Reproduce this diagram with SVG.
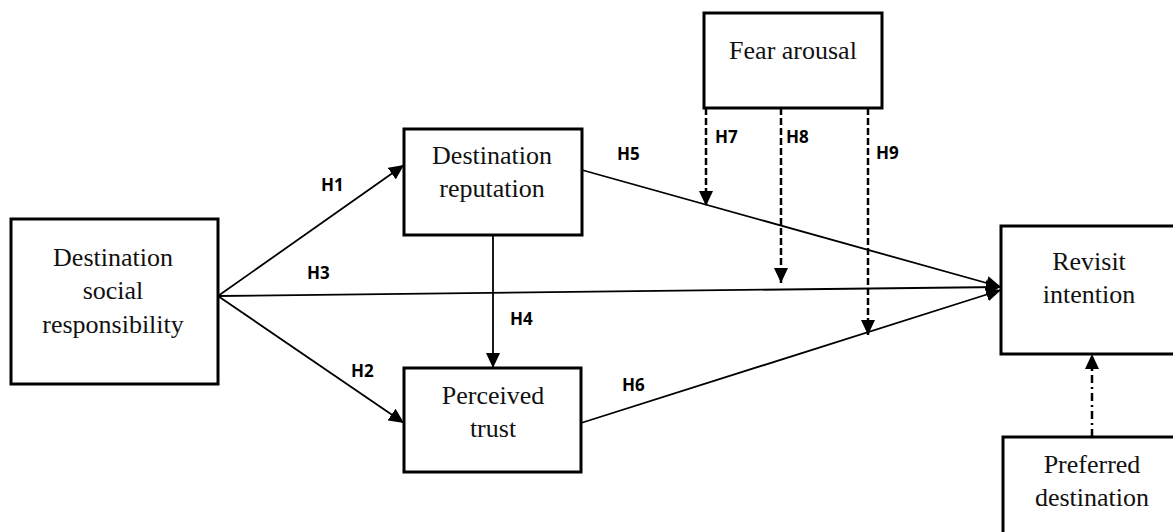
<svg xmlns="http://www.w3.org/2000/svg" width="1173" height="532" viewBox="0 0 1173 532">
<style>
.box{fill:#fff;stroke:#000;stroke-width:3}
.t{font-family:"Liberation Serif","Times New Roman",serif;font-size:26px;fill:#111;text-anchor:middle}
.h{font-family:"Open Sans","Liberation Sans",sans-serif;font-weight:bold;font-size:17px;fill:#000}
.c{stroke:#000;stroke-width:1.8;fill:none}
.d{stroke:#000;stroke-width:2.5;fill:none;stroke-dasharray:7 3}
.dd{stroke:#000;stroke-width:2.5;fill:none;stroke-dasharray:8 4 2 4}
</style>
<defs>
<marker id="ar" markerUnits="userSpaceOnUse" markerWidth="16" markerHeight="14" refX="15" refY="7" orient="auto">
<path d="M0,0 L15,7 L0,14 z" fill="#000"/>
</marker>
</defs>
<rect width="1173" height="532" fill="#fff"/>
<g id="connectors">
<line class="c" x1="218" y1="296" x2="404" y2="165" marker-end="url(#ar)"/>
<line class="c" x1="218" y1="296" x2="404" y2="423" marker-end="url(#ar)"/>
<line class="c" x1="218" y1="296" x2="1001" y2="287" marker-end="url(#ar)"/>
<line class="c" x1="493" y1="235" x2="493" y2="368" marker-end="url(#ar)"/>
<line class="c" x1="582" y1="170" x2="1001" y2="287" marker-end="url(#ar)"/>
<line class="c" x1="581" y1="423" x2="1001" y2="290" marker-end="url(#ar)"/>
<line class="d" x1="706" y1="108" x2="706" y2="206" marker-end="url(#ar)"/>
<line class="d" x1="781" y1="108" x2="781" y2="283" marker-end="url(#ar)"/>
<line class="d" x1="868" y1="108" x2="868" y2="335" marker-end="url(#ar)"/>
<line class="dd" x1="1092" y1="437" x2="1092" y2="354" marker-end="url(#ar)"/>
<text class="h" x="321" y="191">H1</text>
<text class="h" x="351" y="377">H2</text>
<text class="h" x="307" y="279">H3</text>
<text class="h" x="510" y="325">H4</text>
<text class="h" x="617" y="160">H5</text>
<text class="h" x="622" y="391">H6</text>
<text class="h" x="715" y="143">H7</text>
<text class="h" x="786" y="143">H8</text>
<text class="h" x="876" y="159">H9</text>
</g>
<g id="dsr">
<rect class="box" x="11" y="219" width="207" height="165"/>
<text class="t" x="113" y="266">Destination</text>
<text class="t" x="113" y="299">social</text>
<text class="t" x="113" y="333">responsibility</text>
</g>
<g id="reputation">
<rect class="box" x="404" y="129" width="178" height="106"/>
<text class="t" x="492" y="164">Destination</text>
<text class="t" x="492" y="197">reputation</text>
</g>
<g id="trust">
<rect class="box" x="404" y="368" width="177" height="104"/>
<text class="t" x="493" y="404">Perceived</text>
<text class="t" x="493" y="437">trust</text>
</g>
<g id="fear">
<rect class="box" x="704" y="13" width="178" height="95"/>
<text class="t" x="793" y="59">Fear arousal</text>
</g>
<g id="revisit">
<rect class="box" x="1001" y="226" width="180" height="128"/>
<text class="t" x="1089" y="270">Revisit</text>
<text class="t" x="1089" y="303">intention</text>
</g>
<g id="preferred">
<rect class="box" x="1003" y="437" width="180" height="110"/>
<text class="t" x="1092" y="473">Preferred</text>
<text class="t" x="1092" y="506">destination</text>
</g>
</svg>
